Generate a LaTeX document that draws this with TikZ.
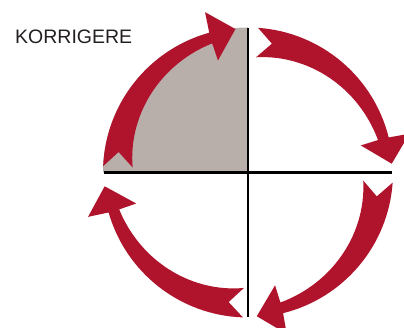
\documentclass[tikz,border=0pt]{standalone}
\usepackage{fontspec}
\setsansfont{Liberation Sans}
\usepackage{xcolor}
\usepackage{tikz}

\definecolor{cyclered}{RGB}{176,20,44}
\definecolor{quadgray}{RGB}{184,175,170}
\definecolor{phasetext}{RGB}{35,31,32}

\begin{document}
\begin{tikzpicture}[
  x=1pt, y=1pt,
  quad/.style={fill=quadgray},
  axis/.style={draw=black, line width=2.6pt},
  turn/.style={fill=cyclered},
  phase/.style={inner sep=0pt, text=phasetext, font=\sffamily\fontsize{19.5}{22}\selectfont}
]
\useasboundingbox (-248,-155.5) rectangle (156,172.5);

\coordinate (c) at (0,0);
\coordinate (w) at (-144,0);
\coordinate (e) at (144,0);
\coordinate (n) at (0,144.5);
\coordinate (s) at (0,-144.5);

% shaded quarter
\fill[quad] (c) -- (180:145) arc[start angle=180, end angle=90, radius=145pt] -- cycle;

\draw[axis] (w) -- (e);
\draw[axis] (n) -- (s);

% the four tapered arrows, tail angle \a, turning clockwise
\foreach \a in {177.5,86,-4,-92}
  \fill[turn] (\a:145) -- (\a-6.5:131) -- (\a:115.5)
    -- plot[domain=0:72, samples=30, variable=\t] ({\a-\t}:{115.5+0.257*\t})
    -- (\a-72.5:116) -- (\a-82.5:144) -- (\a-72.5:166) -- (\a-72:145)
    arc[start angle=\a-72, end angle=\a, radius=145pt] -- cycle;

\node[phase, anchor=base west] (korrigere) at (-233,128.5) {KORRIGERE};

\end{tikzpicture}
\end{document}
